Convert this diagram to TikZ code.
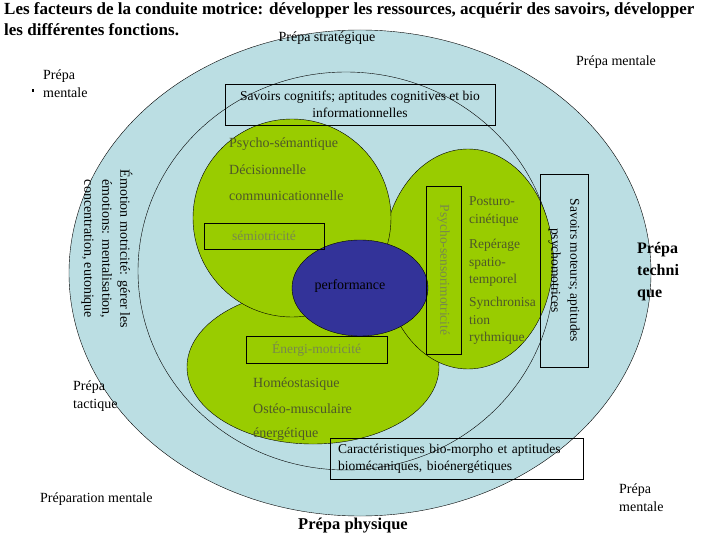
\documentclass[tikz,border=0pt]{standalone}
\usepackage{fontspec}
\setmainfont{Liberation Serif}
\usepackage{tikz}
\usepackage{xcolor}
\definecolor{ciel}{RGB}{187,222,227}
\definecolor{vert}{RGB}{153,204,0}
\definecolor{bleuperf}{RGB}{51,51,153}
\definecolor{olive}{RGB}{78,88,40}
\definecolor{grisvert}{RGB}{120,136,76}

\begin{document}
\begin{tikzpicture}[x=1pt,y=-1pt,
  texte/.style={font=\fontsize{14}{18}\selectfont, inner sep=0pt, align=left},
  vtexte/.style={texte, text=olive, anchor=west},
  gras/.style={font=\fontsize{16}{22}\selectfont\bfseries, inner sep=0pt, align=left},
  cadre/.style={draw, thin, inner sep=2pt, font=\fontsize{13.5}{17}\selectfont, align=center}]
\useasboundingbox (0,0) rectangle (720,540);
\filldraw[fill=ciel, thin] (360,273) ellipse (291pt and 243pt);
\draw[thin] (346,271) ellipse (208pt and 199pt);
\filldraw[fill=vert, thin] (313,367) ellipse (126pt and 77pt);
\filldraw[fill=vert, thin] (468,259) ellipse (85pt and 110pt);
\filldraw[fill=vert, thin] (292,218) circle (99pt);
\filldraw[fill=bleuperf, thin] (360,288) ellipse (68pt and 48pt);

\node[gras, font=\fontsize{17}{21}\selectfont\bfseries, anchor=base west] (titre1) at (4,15) {Les facteurs de la conduite motrice: développer les ressources, acquérir des savoirs, développer};
\node[gras, font=\fontsize{17}{21}\selectfont\bfseries, anchor=base west] (titre2) at (4,36) {les différentes fonctions.};

\node[texte] (strat) at (327,38) {Prépa stratégique};
\node[texte] (mentaleA) at (616,62) {Prépa mentale};
\node[texte, anchor=west] (mentaleB) at (43,84) {Prépa\\mentale};
\fill (31.5,89.5) rectangle (34,92);
\node[texte, anchor=west] (tactique) at (73,396) {Prépa\\tactique};
\node[texte, anchor=west] (prepment) at (40,499) {Préparation mentale};
\node[texte, anchor=west] (mentaleC) at (619,497.5) {Prépa\\mentale};
\node[gras, anchor=west] (technique) at (637,272) {Prépa\\techni\\que};
\node[gras, font=\fontsize{16.5}{20}\selectfont\bfseries] (physique) at (353,526) {Prépa physique};

\node[texte, rotate=-90, align=center] (emotion) at (107,249) {Émotion motricité: gérer les\\émotions: mentalisation,\\concentration, eutonique};

\node[cadre, minimum width=270pt, minimum height=41pt] (cognitif) at (360,104.5) {Savoirs cognitifs; aptitudes cognitives et bio\\informationnelles};
\node[vtexte] (semantique) at (229,144) {Psycho-sémantique};
\node[vtexte] (decision) at (229,170) {Décisionnelle};
\node[vtexte] (commu) at (229,196) {communicationnelle};
\node[cadre, text=grisvert, minimum width=120pt, minimum height=26pt] (semio) at (264,236) {sémiotricité};

\node[texte] (perf) at (350,286) {performance};

\node[cadre, text=grisvert, minimum width=141pt, minimum height=27pt] (energi) at (316.5,349.5) {Énergi-motricité};
\node[vtexte] (homeo) at (253,384) {Homéostasique};
\node[vtexte] (osteo) at (253,409) {Ostéo-musculaire};
\node[vtexte] (energ) at (253,434) {énergétique};

\node[cadre, text=grisvert, rotate=-90, minimum width=168pt, minimum height=35pt] (senso) at (443.5,270) {Psycho-sensorimotricité};
\node[vtexte, font=\fontsize{13.5}{17.5}\selectfont] (posturo) at (469,211.5) {Posturo-\\cinétique};
\node[vtexte, font=\fontsize{13.5}{17.5}\selectfont] (reperage) at (469,263) {Repérage\\spatio-\\temporel};
\node[vtexte, font=\fontsize{13.5}{17.5}\selectfont] (synchro) at (469,321) {Synchronisa\\tion\\rythmique};

\node[cadre, rotate=-90, minimum width=193pt, minimum height=48pt, font=\fontsize{13.5}{19}\selectfont] (moteur) at (564,270.5) {Savoirs moteurs; aptitudes\\psychomotrices};
\node[cadre, align=left, text width=237pt, inner xsep=8pt, minimum height=41pt] (caract) at (456.5,458.5) {Caractéristiques bio-morpho et aptitudes\\biomécaniques, bioénergétiques};
\end{tikzpicture}
\end{document}
